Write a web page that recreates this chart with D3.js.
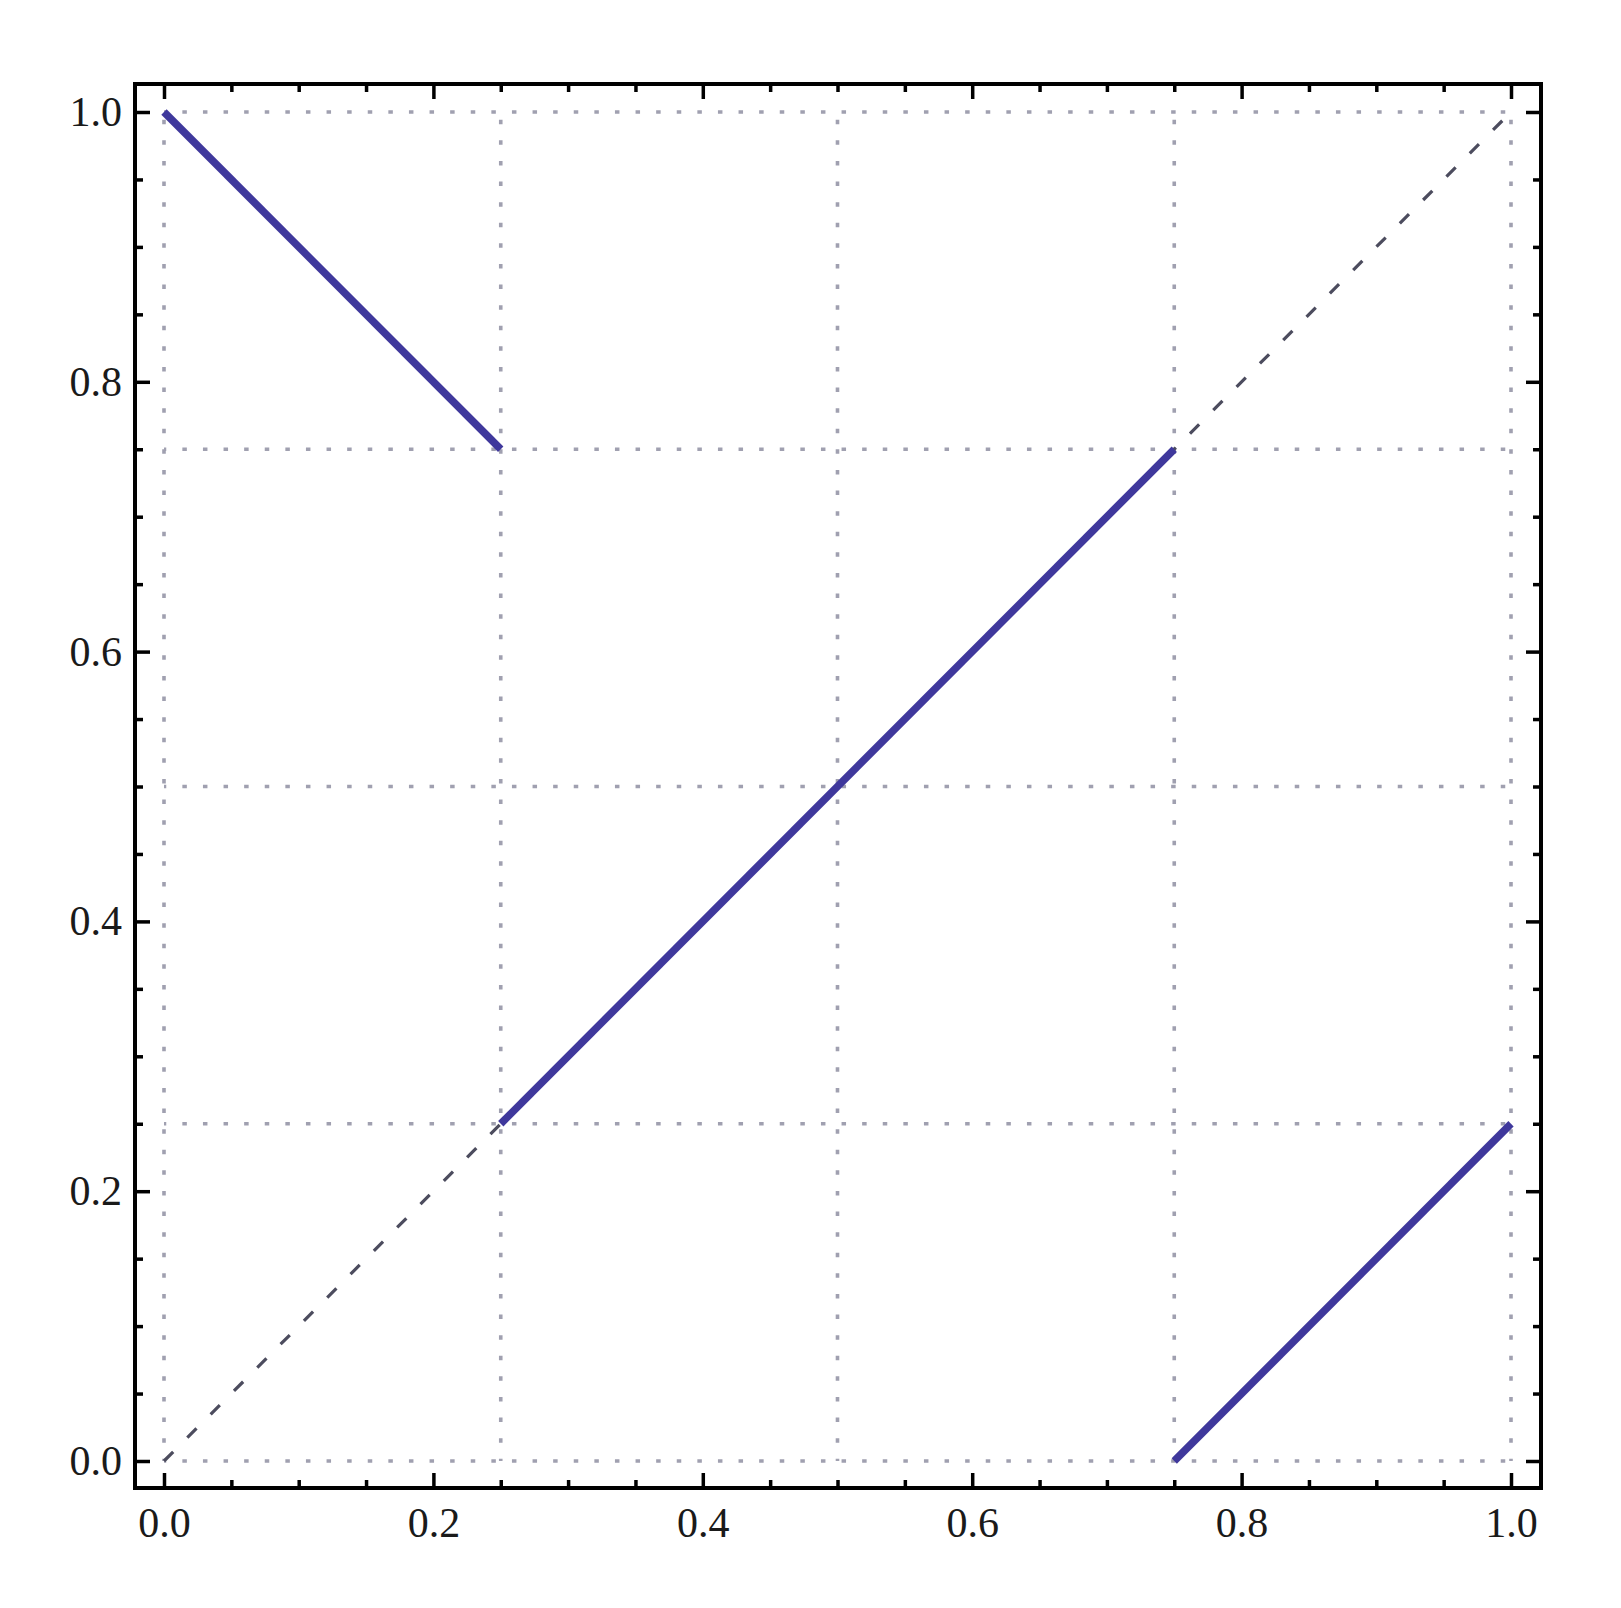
<!DOCTYPE html>
<html>
<head>
<meta charset="utf-8">
<script src="https://cdn.jsdelivr.net/npm/d3@7"></script>
<style>
  html, body { margin: 0; padding: 0; background: #ffffff; }
  svg { display: block; }
</style>
</head>
<body>
<svg id="chart" width="1621" height="1608"></svg>
<script>
// ---- data ----
const segment1X = [0.0, 0.25];
const segment1Y = [1.0, 0.75];
const segment2X = [0.25, 0.75];
const segment2Y = [0.25, 0.75];
const segment3X = [0.75, 1.0];
const segment3Y = [0.0, 0.25];
const diagonalX = [0.0, 1.0];
const diagonalY = [0.0, 1.0];
const majorTicks = [0.0, 0.2, 0.4, 0.6, 0.8, 1.0];
const minorTicks = [0.05, 0.1, 0.15, 0.25, 0.3, 0.35, 0.45, 0.5, 0.55, 0.65, 0.7, 0.75, 0.85, 0.9, 0.95];
const gridValues = [0.0, 0.25, 0.5, 0.75, 1.0];

// ---- layout ----
const svg = d3.select("#chart");
const x = d3.scaleLinear().domain([0, 1]).range([164, 1511]);
const y = d3.scaleLinear().domain([0, 1]).range([1461, 112]);
const frame = { left: 135, right: 1541, top: 84, bottom: 1488 };

const lineColor = "#3f389c";
const fontFamily = "'Liberation Serif', 'DejaVu Serif', serif";

// ---- grid ----
const grid = svg.append("g");
grid.selectAll("line.gv").data(gridValues).enter().append("line")
  .attr("x1", d => x(d)).attr("x2", d => x(d))
  .attr("y1", y(0)).attr("y2", y(1))
  .attr("stroke", "#a0a0b0").attr("stroke-width", 3.6)
  .attr("stroke-dasharray", "4.5 16.1").attr("stroke-dashoffset", 2.25);
grid.selectAll("line.gh").data(gridValues).enter().append("line")
  .attr("y1", d => y(d)).attr("y2", d => y(d))
  .attr("x1", x(0)).attr("x2", x(1))
  .attr("stroke", "#a0a0b0").attr("stroke-width", 3.6)
  .attr("stroke-dasharray", "4.5 16.1").attr("stroke-dashoffset", 2.25);

// ---- dashed diagonal ----
const line = d3.line().x(d => x(d[0])).y(d => y(d[1]));
svg.append("path")
  .attr("d", line(d3.zip(diagonalX, diagonalY)))
  .attr("fill", "none").attr("stroke", "#4c4c5e").attr("stroke-width", 3.2)
  .attr("stroke-dasharray", "13 20");

// ---- solid segments ----
[[segment1X, segment1Y], [segment2X, segment2Y], [segment3X, segment3Y]].forEach(([sx, sy]) => {
  svg.append("path")
    .attr("d", line(d3.zip(sx, sy)))
    .attr("fill", "none").attr("stroke", lineColor).attr("stroke-width", 7.5)
    .attr("stroke-linecap", "butt");
});

// ---- axes (ticks pointing inward) ----
const fmt = d3.format(".1f");
function styleAxis(g) {
  g.select(".domain").remove();
  g.selectAll(".tick line").attr("stroke", "#000").attr("stroke-width", 3.5);
  g.selectAll(".tick text").attr("font-family", fontFamily).attr("font-size", 42).attr("fill", "#1a1a1a");
}

// bottom
svg.append("g").attr("transform", `translate(0,${frame.bottom})`)
  .call(d3.axisBottom(x).tickValues(majorTicks).tickFormat(fmt).tickSizeInner(-15).tickSizeOuter(0).tickPadding(19))
  .call(styleAxis);
svg.append("g").attr("transform", `translate(0,${frame.bottom})`)
  .call(d3.axisBottom(x).tickValues(minorTicks).tickFormat("").tickSizeInner(-8).tickSizeOuter(0))
  .call(styleAxis);
// top
svg.append("g").attr("transform", `translate(0,${frame.top})`)
  .call(d3.axisTop(x).tickValues(majorTicks).tickFormat("").tickSizeInner(-15).tickSizeOuter(0))
  .call(styleAxis);
svg.append("g").attr("transform", `translate(0,${frame.top})`)
  .call(d3.axisTop(x).tickValues(minorTicks).tickFormat("").tickSizeInner(-8).tickSizeOuter(0))
  .call(styleAxis);
// left
svg.append("g").attr("transform", `translate(${frame.left},0)`)
  .call(d3.axisLeft(y).tickValues(majorTicks).tickFormat(fmt).tickSizeInner(-15).tickSizeOuter(0).tickPadding(13))
  .call(styleAxis);
svg.append("g").attr("transform", `translate(${frame.left},0)`)
  .call(d3.axisLeft(y).tickValues(minorTicks).tickFormat("").tickSizeInner(-8).tickSizeOuter(0))
  .call(styleAxis);
// right
svg.append("g").attr("transform", `translate(${frame.right},0)`)
  .call(d3.axisRight(y).tickValues(majorTicks).tickFormat("").tickSizeInner(-15).tickSizeOuter(0))
  .call(styleAxis);
svg.append("g").attr("transform", `translate(${frame.right},0)`)
  .call(d3.axisRight(y).tickValues(minorTicks).tickFormat("").tickSizeInner(-8).tickSizeOuter(0))
  .call(styleAxis);

// ---- frame ----
svg.append("rect")
  .attr("x", frame.left).attr("y", frame.top)
  .attr("width", frame.right - frame.left).attr("height", frame.bottom - frame.top)
  .attr("fill", "none").attr("stroke", "#000").attr("stroke-width", 4);
</script>
</body>
</html>
